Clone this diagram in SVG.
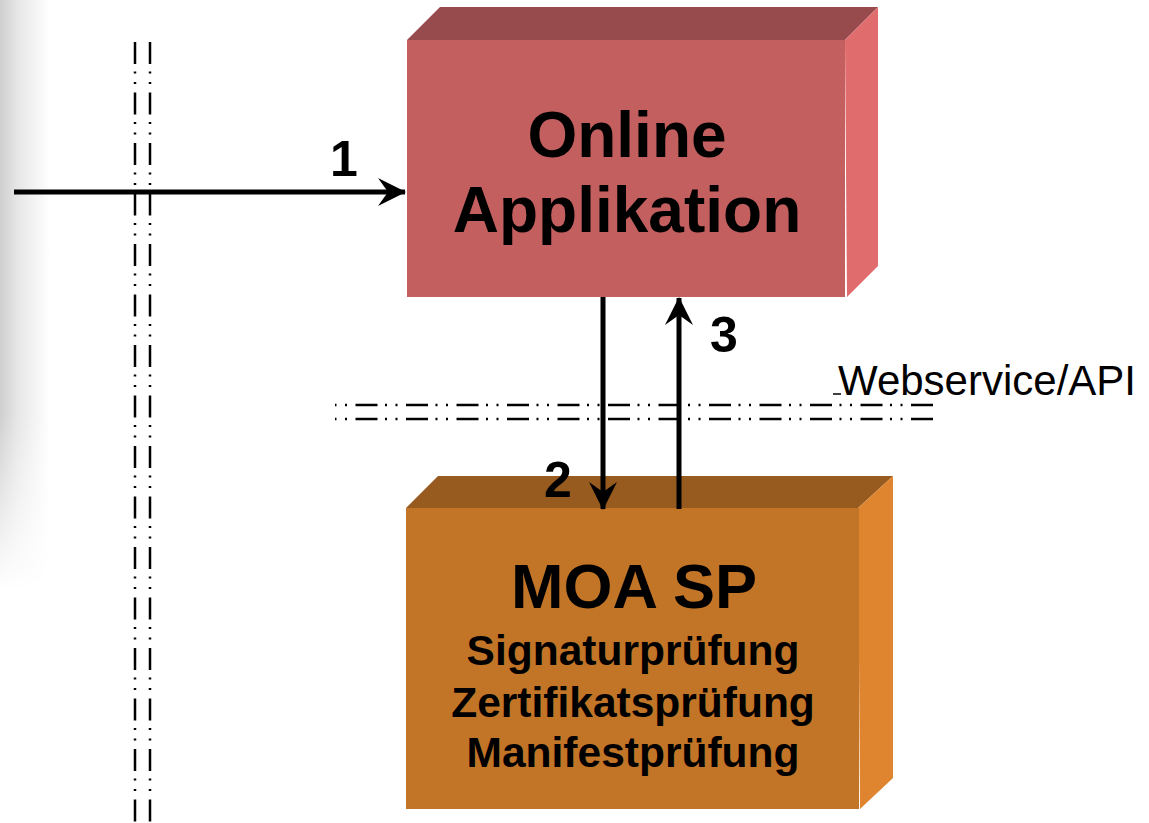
<svg xmlns="http://www.w3.org/2000/svg" width="1149" height="823" viewBox="0 0 1149 823">
<defs>
<style>
.lbl{font-family:"Liberation Sans",Arial,sans-serif;font-weight:bold;fill:#000;text-anchor:middle}
.big{font-size:64px}
.mid{font-size:42.5px}
.num{font-size:50px}
.web{font-family:"Liberation Sans",Arial,sans-serif;font-size:42px;fill:#000}
.arr{stroke:#000;stroke-width:5;fill:none}
.sep{stroke:#000;stroke-width:2.5;fill:none;stroke-dasharray:22 7.5 2 8.5 2 8.5}
</style>
<marker id="ah" viewBox="0 0 28 28" refX="27" refY="14" markerWidth="28" markerHeight="28" markerUnits="userSpaceOnUse" orient="auto">
<path d="M28,14 L0,0 L10,14 L0,28 Z" fill="#000"/>
</marker>
<linearGradient id="shH" x1="0" y1="0" x2="1" y2="0">
<stop offset="0" stop-color="#cfcfcf"/>
<stop offset="0.35" stop-color="#e6e6e6"/>
<stop offset="1" stop-color="#ffffff"/>
</linearGradient>
<linearGradient id="shV" x1="0" y1="0" x2="0" y2="1">
<stop offset="0" stop-color="#fff"/>
<stop offset="0.7" stop-color="#fff"/>
<stop offset="1" stop-color="#000"/>
</linearGradient>
<mask id="shM"><rect x="0" y="0" width="60" height="590" fill="url(#shV)"/></mask>
</defs>
<rect width="1149" height="823" fill="#fff"/>
<rect x="0" y="0" width="50" height="590" fill="url(#shH)" mask="url(#shM)"/>

<g id="separators">
<line class="sep" x1="135" y1="42" x2="135" y2="823"/>
<line class="sep" x1="150" y1="42" x2="150" y2="823"/>
<line class="sep" x1="335" y1="405" x2="939" y2="405" stroke-dashoffset="30"/>
<line class="sep" x1="335" y1="419" x2="939" y2="419" stroke-dashoffset="30"/>
</g>

<g id="online-applikation">
<polygon points="407,40 440,7 878,7 845,40" fill="#984B4C"/>
<polygon points="845,40 878,7 878,266 847,297" fill="#E06C6D"/>
<rect x="407" y="40" width="438" height="257" fill="#C45F60"/>
<text class="lbl big" x="627" y="157">Online</text>
<text class="lbl big" x="627" y="232">Applikation</text>
</g>

<g id="moa-sp">
<polygon points="406,508 438,476 893,476 858,508" fill="#975B1F"/>
<polygon points="858,508 893,476 893,778 860,809" fill="#E0852F"/>
<rect x="406" y="508" width="453" height="301" fill="#C27427"/>
<text class="lbl" x="634" y="608" style="font-size:63px">MOA SP</text>
<text class="lbl mid" x="633" y="665">Signaturprüfung</text>
<text class="lbl mid" x="633" y="717">Zertifikatsprüfung</text>
<text class="lbl mid" x="633" y="767">Manifestprüfung</text>
</g>

<g id="webservice-label">
<line x1="833" y1="394" x2="841" y2="394" stroke="#000" stroke-width="1.5"/>
<text class="web" x="838" y="395">Webservice/API</text>
</g>

<g id="connectors">
<line class="arr" x1="14" y1="192" x2="405" y2="192" marker-end="url(#ah)"/>
<line class="arr" x1="603" y1="297" x2="603" y2="509" marker-end="url(#ah)"/>
<line class="arr" x1="679" y1="509" x2="679" y2="298" marker-end="url(#ah)"/>
<text class="lbl num" x="344" y="176">1</text>
<text class="lbl num" x="558" y="497">2</text>
<text class="lbl num" x="724" y="352">3</text>
</g>
</svg>
